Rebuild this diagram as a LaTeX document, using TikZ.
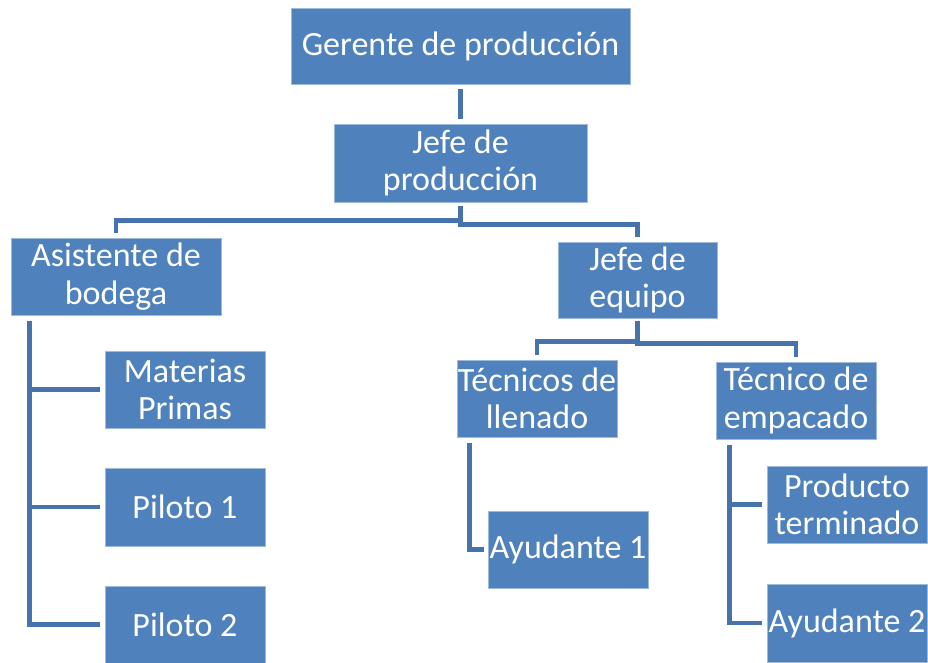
\documentclass[tikz,border=0pt]{standalone}
\usepackage{fontspec}
\setmainfont{Carlito}
\definecolor{boxblue}{RGB}{79,129,189}
\definecolor{linkblue}{RGB}{70,115,172}

\begin{document}
\begin{tikzpicture}[x=1pt, y=-1pt,
  box/.style={fill=boxblue, draw=boxblue!55!white, line width=0.6pt, text=white,
    align=center, inner xsep=0pt, inner ysep=0pt,
    minimum width=160pt, minimum height=77pt,
    font=\fontsize{34}{37.5}\selectfont},
  link/.style={draw=linkblue, line width=4.5pt}]
\useasboundingbox (0,0) rectangle (928,662);

\node[box, minimum width=339pt, minimum height=76pt] (gerente) at (460.5,46) {Gerente de producción};
\node[box, minimum width=253pt, minimum height=78pt] (jefe) at (460.5,163) {Jefe de\\producción};
\node[box, minimum width=210pt] (asistente) at (116,276.5) {Asistente de\\bodega};
\node[box, minimum width=159pt, minimum height=76pt] (equipo) at (637.5,280) {Jefe de\\equipo};

\node[box] (materias) at (185,389.5) {Materias\\Primas};
\node[box, minimum height=78pt] (piloto1) at (185,507) {Piloto 1};
\node[box] (piloto2) at (185,624.5) {Piloto 2};

\node[box] (llenado) at (537,398.5) {Técnicos de\\llenado};
\node[box] (empacado) at (796,400.5) {Técnico de\\empacado};

\node[box] (ayudante1) at (568,549.5) {Ayudante 1};
\node[box] (producto) at (847,504.5) {Producto\\terminado};
\node[box, minimum height=78pt] (ayudante2) at (847,623) {Ayudante 2};

% gerente -> jefe
\draw[link] ([yshift=-5pt]gerente.south) -- ([yshift=5pt]jefe.north);

% jefe -> asistente, equipo
\draw[link] ([yshift=-4pt]jefe.south) -- ++(0,14) -| ([yshift=5pt]asistente.north);
\draw[link] ([yshift=-4pt]jefe.south) -- ++(0,18) -| ([yshift=5pt]equipo.north);

% equipo -> tecnicos
\draw[link] ([yshift=-3pt]equipo.south) -- ++(0,20) -| ([yshift=5pt]llenado.north);
\draw[link] ([yshift=-3pt]equipo.south) -- ++(0,22) -| ([yshift=5pt]empacado.north);

% asistente -> materias, pilotos
\coordinate (asisbus) at ([xshift=19pt,yshift=-6pt]asistente.south west);
\draw[link] (asisbus) |- ([xshift=-5pt]piloto2.west);
\draw[link] (asisbus |- materias.west) -- ([xshift=-5pt]materias.west);
\draw[link] (asisbus |- piloto1.west) -- ([xshift=-5pt]piloto1.west);

% llenado -> ayudante 1
\coordinate (llenbus) at ([xshift=13pt,yshift=-6pt]llenado.south west);
\draw[link] (llenbus) |- ([xshift=-4pt]ayudante1.west);

% empacado -> producto, ayudante 2
\coordinate (empbus) at ([xshift=14pt,yshift=-6pt]empacado.south west);
\draw[link] (empbus) |- ([xshift=-5pt]ayudante2.west);
\draw[link] (empbus |- producto.west) -- ([xshift=-5pt]producto.west);
\end{tikzpicture}
\end{document}
